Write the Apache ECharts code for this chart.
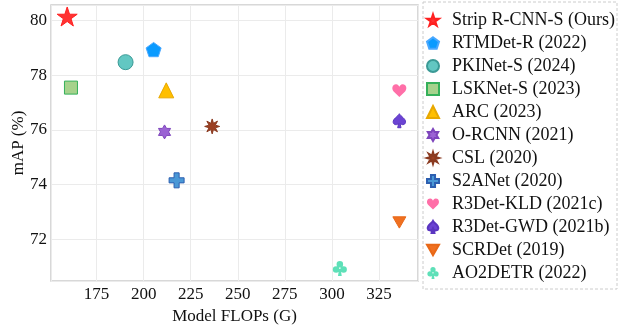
<!DOCTYPE html>
<html><head><meta charset="utf-8">
<script src="https://cdn.jsdelivr.net/npm/echarts@6/dist/echarts.min.js"></script>
<style>html,body{margin:0;padding:0;background:#fff}#c{width:624px;height:326px}</style>
</head><body><div id="c"></div>
<script>
const methods = ['Strip R-CNN-S (Ours)','RTMDet-R (2022)','PKINet-S (2024)','LSKNet-S (2023)','ARC (2023)','O-RCNN (2021)','CSL (2020)','S2ANet (2020)','R3Det-KLD (2021c)','R3Det-GWD (2021b)','SCRDet (2019)','AO2DETR (2022)'];
const flops = [159.4, 205.3, 190.4, 161.4, 212.0, 211.1, 236.4, 217.5, 335.8, 335.8, 335.8, 304.2];
const mapValues = [80.15, 78.94, 78.48, 77.55, 77.45, 75.93, 76.13, 74.16, 77.44, 76.34, 72.62, 70.94];
const xTicks = [175, 200, 225, 250, 275, 300, 325];
const yTicks = [72, 74, 76, 78, 80];

const P = {
  star: 'path://M50,0L61.2,34.5L97.6,34.5L68.2,55.9L79.4,90.5L50,69.1L20.6,90.5L31.8,55.9L2.4,34.5L38.8,34.5Z',
  pent: 'path://M50,0L97.6,34.5L79.4,90.5L20.6,90.5L2.4,34.5Z',
  hexa: 'path://M50,0L64.4,25L93.3,25L78.9,50L93.3,75L64.4,75L50,100L35.6,75L6.7,75L21.1,50L6.7,25L35.6,25Z',
  oct: 'path://M50,0L58.6,29.2L85.4,14.6L70.8,41.4L100,50L70.8,58.6L85.4,85.4L58.6,70.8L50,100L41.4,70.8L14.6,85.4L29.2,58.6L0,50L29.2,41.4L14.6,14.6L41.4,29.2Z',
  plus: 'path://M33,0H67V33H100V67H67V100H33V67H0V33H33Z',
  heart: 'path://M50,92L12,55C-5,36 6,6 29,8C41,9 47,17 50,25C53,17 59,9 71,8C94,6 105,36 88,55Z',
  spade: 'path://M50,0C40,20 2,36 6,62C10,82 34,82 45,70L38,100H62L55,70C66,82 90,82 94,62C98,36 60,20 50,0Z',
  down: 'path://M0,0H100L50,87Z',
  club: 'path://M50,4A21,21 0 1,1 49.9,4ZM26,38A21,21 0 1,1 25.9,38ZM74,38A21,21 0 1,1 73.9,38ZM45,55H55L62,100H38Z'
};
const symbols = [P.star, P.pent, 'circle', 'rect', 'triangle', P.hexa, P.oct, P.plus, P.heart, P.spade, P.down, P.club];
const sizes = [20, 15, 15, 13, 15, 14, 15, 15, 14, 14, 13, 15];
const fills = ['#ff3333','#0a9bff','#62c7c2','#a6d28c','#ffbf00','#9b63d4','#9c4022','#4a98d6','#ff6fa8','#6b43d3','#f07020','#5ee0b8'];
const edges = ['#ff2020','#4aa8ff','#3b9a96','#35b05a','#e8a800','#7e45bc','#8a3a20','#2d5fb0','#ff6fa8','#5a35c0','#e86818','#5ee0b8'];

const series = methods.map((m, i) => ({
  name: m, type: 'scatter',
  data: [[flops[i], mapValues[i]]],
  symbol: symbols[i], symbolSize: sizes[i], symbolKeepAspect: true,
  itemStyle: { color: fills[i], borderColor: edges[i], borderWidth: (i===8||i===11)?0:1, opacity: 1 },
  emphasis: { disabled: true }
}));

const font = 'Liberation Serif, Times New Roman, serif';
const chart = echarts.init(document.getElementById('c'), null, { renderer: 'canvas' });
chart.setOption({
  animation: false,
  backgroundColor: '#fff',
  grid: { left: 51, right: 206, top: 5, bottom: 45, show: true, borderColor: '#cccccc', borderWidth: 1.5, containLabel: false, outerBoundsMode: 'none' },
  xAxis: {
    type: 'value', min: 150.8, max: 345.7, minInterval: 25, maxInterval: 25,
    name: 'Model FLOPs (G)', nameLocation: 'middle', nameGap: 24,
    nameTextStyle: { fontFamily: font, fontSize: 17, color: '#111' },
    axisLine: { show: false }, axisTick: { show: false },
    axisLabel: { fontFamily: font, fontSize: 17, color: '#111', margin: 5, showMinLabel: false, showMaxLabel: false,
      formatter: v => xTicks.includes(v) ? String(v) : '' },
    splitLine: { show: true, lineStyle: { color: '#ebebeb', width: 1 } }
  },
  yAxis: {
    type: 'value', min: 70.48, max: 80.57, minInterval: 2, maxInterval: 2,
    name: 'mAP (%)', nameLocation: 'middle', nameGap: 24, nameMoveOverlap: false,
    nameTextStyle: { fontFamily: font, fontSize: 17, color: '#111' },
    axisLine: { show: false }, axisTick: { show: false },
    axisLabel: { fontFamily: font, fontSize: 17, color: '#111', margin: 4, showMinLabel: false, showMaxLabel: false,
      formatter: v => yTicks.includes(v) ? String(v) : '' },
    splitLine: { show: true, lineStyle: { color: '#ebebeb', width: 1 } }
  },
  legend: {
    orient: 'vertical', left: 423, top: 2,
    padding: [9, 2, 7, 3], itemGap: 5, itemWidth: 12, itemHeight: 12,
    borderColor: '#cccccc', borderWidth: 1, borderType: [3, 2],
    textStyle: { fontFamily: font, fontSize: 18, lineHeight: 18, color: '#111', padding: [0, 0, 0, 8] },
    data: methods
  },
  series: series
});
</script></body></html>
